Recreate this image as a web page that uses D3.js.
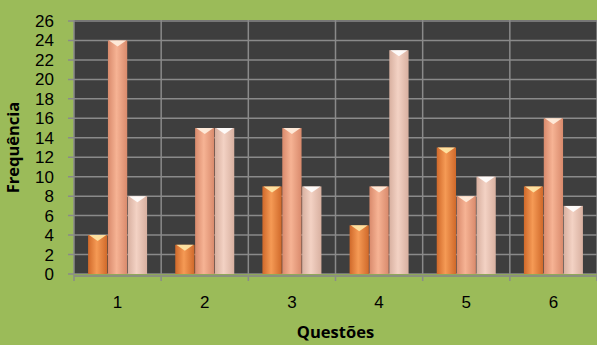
<!DOCTYPE html>
<html><head><meta charset="utf-8">
<script src="https://cdn.jsdelivr.net/npm/d3@7/dist/d3.min.js"></script>
<style>html,body{margin:0;padding:0;background:#9bbb59;}svg{display:block;}</style>
</head><body>
<svg id="c" width="597" height="345"></svg>
<script>
const categories = ["1","2","3","4","5","6"];
const series1 = [4, 3, 9, 5, 13, 9];
const series2 = [24, 15, 15, 9, 8, 16];
const series3 = [8, 15, 9, 23, 10, 7];
const yTicks = [0,2,4,6,8,10,12,14,16,18,20,22,24,26];
const xTitle = "Questões";
const yTitle = "Frequência";

(function(){
const svg = d3.select("#c");
const pL = 74, pR = 597, pT = 21, pB = 274;
const font = "'Open Sans', 'Noto Sans', sans-serif";
const tickFont = "'Liberation Sans', Arial, sans-serif";

const x = d3.scaleBand().domain(categories).range([pL, pR]);
const y = d3.scaleLinear().domain([0, 26]).range([pB, pT]);
const sub = d3.scaleBand().domain([0,1,2]).range([0, 59]).paddingInner(0.03);

const defs = svg.append("defs");
const grads = [
  ["g0", "#d0692a", "#f59a55"],
  ["g1", "#d98a6c", "#f6b394"],
  ["g2", "#d8b0a0", "#f3d2c4"]
];
grads.forEach(([id, edge, mid]) => {
  const g = defs.append("linearGradient").attr("id", id).attr("x1","0").attr("x2","1").attr("y1","0").attr("y2","0");
  g.append("stop").attr("offset","0").attr("stop-color", edge);
  g.append("stop").attr("offset","0.45").attr("stop-color", mid);
  g.append("stop").attr("offset","1").attr("stop-color", edge);
});

svg.append("rect").attr("x", pL).attr("y", pT - 1).attr("width", pR - pL).attr("height", pB - pT + 2).attr("fill", "#3e3e3e");

svg.append("g").selectAll("line").data(yTicks).join("line")
  .attr("x1", pL - 6).attr("x2", pR).attr("y1", d => y(d)).attr("y2", d => y(d))
  .attr("stroke", "#8a8a8a").attr("stroke-width", 1.5);
const divs = categories.map(c => x(c)).concat([pR]);
svg.append("g").selectAll("line").data(divs).join("line")
  .attr("x1", d => d).attr("x2", d => d).attr("y1", pT - 1).attr("y2", pB + 7)
  .attr("stroke", "#8a8a8a").attr("stroke-width", 1.5);
svg.append("rect").attr("x", pL).attr("y", pB).attr("width", pR - pL).attr("height", 3).attr("fill", "#8fa85a");
svg.append("line").attr("x1", pL).attr("x2", pR).attr("y1", pB + 2).attr("y2", pB + 2).attr("stroke", "#8a8a8a").attr("stroke-width", 1.5);

const allSeries = [series1, series2, series3];
const capColors = ["#ffe9a8", "#fff0e0", "#ffffff"];
allSeries.forEach((s, si) => {
  const g = svg.append("g");
  const bw = sub.bandwidth();
  const off = (x.bandwidth() - 59) / 2;
  g.selectAll("rect").data(s).join("rect")
    .attr("x", (d, i) => x(categories[i]) + off + sub(si))
    .attr("y", d => y(d)).attr("width", bw).attr("height", d => pB - y(d))
    .attr("fill", `url(#g${si})`);
  g.selectAll("path").data(s).join("path")
    .attr("d", (d, i) => {
      const x0 = x(categories[i]) + off + sub(si), y0 = y(d);
      return `M${x0+1},${y0}L${x0+bw-1},${y0}L${x0+bw*0.5},${y0+6}Z`;
    })
    .attr("fill", capColors[si]).attr("opacity", 0.9);
});

svg.append("g").selectAll("text").data(yTicks).join("text")
  .attr("x", 54).attr("y", d => y(d) + 6).attr("text-anchor", "end")
  .attr("font-family", tickFont).attr("font-size", 17).attr("fill", "#000").text(d => d);
svg.append("g").selectAll("text").data(categories).join("text")
  .attr("x", d => x(d) + x.bandwidth() / 2).attr("y", 308).attr("text-anchor", "middle")
  .attr("font-family", tickFont).attr("font-size", 17).attr("fill", "#000").text(d => d);
svg.append("text").attr("x", 335.5).attr("y", 338).attr("text-anchor", "middle")
  .attr("font-family", font).attr("font-size", 16.5).attr("font-weight", "bold").text(xTitle);
svg.append("text").attr("transform", "translate(19,147.5) rotate(-90)").attr("text-anchor", "middle")
  .attr("font-family", font).attr("font-size", 16.5).attr("font-weight", "bold").text(yTitle);
})();
</script>
</body></html>
